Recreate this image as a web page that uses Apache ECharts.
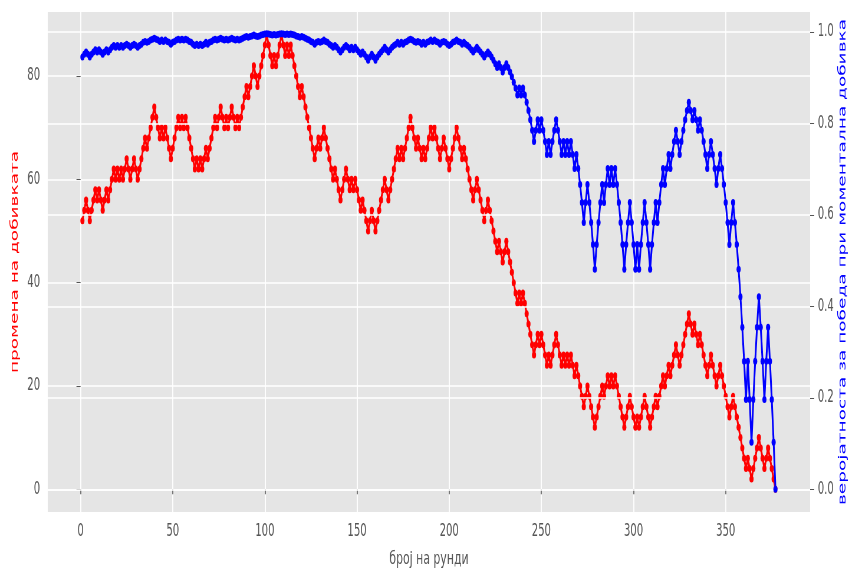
<!DOCTYPE html>
<html>
<head>
<meta charset="utf-8">
<script src="https://cdn.jsdelivr.net/npm/echarts@6.0.0/dist/echarts.min.js"></script>
<style>
html, body { margin: 0; padding: 0; background: #fff; overflow: hidden; }
#wrap { position: fixed; left: 0; top: 0; width: 849px; height: 570px; overflow: hidden; }
/* the reference is horizontally squeezed, so draw wide and squeeze */
#chart { position: absolute; left: 0; top: 0; width: 1440px; height: 570px; transform: scaleX(0.5896); transform-origin: 0 0; }
</style>
</head>
<body>
<div id="wrap"><div id="chart"></div></div>
<script>
// промена на добивката по рунда (рунда 1..377)
const gain = [
  52,54,56,54,52,54,56,58,56,58,
  56,54,56,58,56,58,60,62,60,62,
  60,62,60,62,64,62,60,62,64,62,
  60,62,64,66,68,66,68,70,72,74,
  72,70,68,70,68,70,68,66,64,66,
  68,70,72,70,72,70,72,70,68,66,
  64,62,64,62,64,62,64,66,64,66,
  68,70,72,70,72,74,72,70,72,70,
  72,74,72,70,72,70,72,74,76,78,
  76,78,80,82,80,78,80,82,84,86,
  88,86,84,82,84,82,84,86,88,86,
  84,86,84,86,84,82,80,78,76,78,
  76,74,72,70,68,66,64,66,68,66,
  68,70,68,66,64,62,60,62,60,58,
  56,58,60,62,60,58,60,58,60,58,
  56,54,56,54,52,50,52,54,52,50,
  52,54,56,58,60,58,56,58,60,62,
  64,66,64,66,64,66,68,70,72,70,
  68,66,68,66,64,66,64,66,68,70,
  68,70,68,66,64,66,68,66,64,62,
  64,66,68,70,68,66,64,66,64,62,
  60,58,56,58,60,58,56,54,52,54,
  56,54,52,50,48,46,48,46,44,46,
  48,46,44,42,40,38,36,38,36,38,
  36,34,32,30,28,26,28,30,28,30,
  28,26,24,26,24,26,28,30,28,26,
  24,26,24,26,24,26,24,22,24,22,
  20,18,16,18,20,18,16,14,12,14,
  16,18,20,18,20,22,20,22,20,22,
  20,18,16,14,12,14,16,18,16,14,
  12,14,12,14,16,18,16,14,12,14,
  16,18,16,18,20,22,20,22,24,22,
  24,26,28,26,24,26,28,30,32,34,
  32,30,32,30,28,30,28,26,24,22,
  24,26,24,22,20,22,24,22,20,18,
  16,14,16,18,16,14,12,10,8,6,
  4,6,4,2,4,6,8,10,8,6,
  4,6,8,6,4,2,0
];

// веројатност за победа при моментална добивка
const winProb = [
  .945,.951,.956,.951,.945,.951,.956,.961,.956,.961,
  .956,.951,.956,.961,.956,.961,.966,.970,.966,.970,
  .966,.970,.966,.970,.973,.970,.966,.970,.973,.970,
  .966,.970,.973,.977,.979,.977,.979,.982,.984,.986,
  .984,.982,.979,.982,.979,.982,.979,.977,.973,.977,
  .979,.982,.984,.982,.984,.982,.984,.982,.979,.977,
  .973,.970,.973,.970,.973,.970,.973,.977,.973,.977,
  .979,.982,.984,.982,.984,.986,.984,.982,.984,.982,
  .984,.986,.984,.982,.984,.982,.984,.986,.988,.990,
  .988,.990,.991,.993,.991,.990,.991,.993,.994,.995,
  .996,.995,.994,.993,.994,.993,.994,.995,.996,.995,
  .994,.995,.994,.995,.994,.993,.991,.990,.988,.990,
  .988,.986,.984,.982,.979,.977,.973,.977,.979,.977,
  .979,.982,.979,.977,.973,.970,.966,.970,.966,.961,
  .956,.961,.966,.970,.966,.961,.966,.961,.966,.961,
  .956,.951,.956,.951,.945,.938,.945,.951,.945,.938,
  .945,.951,.956,.961,.966,.961,.956,.961,.966,.970,
  .973,.977,.973,.977,.973,.977,.979,.982,.984,.982,
  .979,.977,.979,.977,.973,.977,.973,.977,.979,.982,
  .979,.982,.979,.977,.973,.977,.979,.977,.973,.970,
  .973,.977,.979,.982,.979,.977,.973,.977,.973,.970,
  .966,.961,.956,.961,.966,.961,.956,.951,.945,.951,
  .956,.951,.945,.938,.930,.922,.930,.922,.912,.922,
  .930,.922,.912,.902,.890,.877,.862,.877,.862,.877,
  .862,.846,.828,.808,.785,.760,.785,.808,.785,.808,
  .785,.760,.732,.760,.732,.760,.785,.808,.785,.760,
  .732,.760,.732,.760,.732,.760,.732,.701,.732,.701,
  .666,.627,.583,.627,.666,.627,.583,.535,.481,.535,
  .583,.627,.666,.627,.666,.701,.666,.701,.666,.701,
  .666,.627,.583,.535,.481,.535,.583,.627,.583,.535,
  .481,.535,.481,.535,.583,.627,.583,.535,.481,.535,
  .583,.627,.583,.627,.666,.701,.666,.701,.732,.701,
  .732,.760,.785,.760,.732,.760,.785,.808,.828,.846,
  .828,.808,.828,.808,.785,.808,.785,.760,.732,.701,
  .732,.760,.732,.701,.666,.701,.732,.701,.666,.627,
  .583,.535,.583,.627,.583,.535,.481,.421,.354,.280,
  .196,.280,.196,.103,.196,.280,.354,.421,.354,.280,
  .196,.280,.354,.280,.196,.103,0
];

const firstRound = 1;
const xTicks = [0, 50, 100, 150, 200, 250, 300, 350];
const leftTicks = [0, 20, 40, 60, 80];
const rightTicks = [0, 0.2, 0.4, 0.6, 0.8, 1.0];

const tickColor = '#555555';
const font = 'DejaVu Sans';

const chart = echarts.init(document.getElementById('chart'), null, { renderer: 'canvas', width: 1440, height: 570 });

chart.setOption({
  animation: false,
  backgroundColor: '#ffffff',
  grid: {
    show: true,
    backgroundColor: '#E5E5E5',
    borderWidth: 0,
    outerBoundsMode: 'none', // keep the plot box exactly where it is set
    left: 81,
    right: 66,
    top: 12,
    bottom: 58
  },
  xAxis: {
    type: 'value',
    min: -17.8,
    max: 395.8,
    name: 'број на рунди',
    nameLocation: 'middle',
    nameGap: 38,
    nameTextStyle: { color: tickColor, fontSize: 18.5, fontFamily: font },
    axisLine: { show: false },
    axisTick: { show: true, customValues: xTicks, length: 5, lineStyle: { color: tickColor, width: 1.6 } },
    axisLabel: { customValues: xTicks, color: tickColor, fontSize: 17, fontFamily: font, margin: 11 },
    splitLine: { show: true, lineStyle: { color: '#ffffff', width: 1.8 } }
  },
  yAxis: [{
    type: 'value',
    position: 'left',
    min: -4.4,
    max: 92.4,
    z: 0,
    name: 'промена на добивката',
    nameLocation: 'middle',
    nameRotate: 90,
    nameGap: 46,
    nameTextStyle: { color: '#ff0000', fontSize: 18.5, fontFamily: font },
    axisLine: { show: false },
    axisTick: { show: true, customValues: leftTicks, length: 7, lineStyle: { color: tickColor, width: 1 } },
    axisLabel: { customValues: leftTicks, color: tickColor, fontSize: 17, fontFamily: font, margin: 13 },
    splitLine: { show: true, lineStyle: { color: '#ffffff', width: 1.5 } }
  }, {
    type: 'value',
    position: 'right',
    min: -0.0497,
    max: 1.0433,
    z: 1.5,
    name: 'веројатноста за победа при моментална добивка',
    nameLocation: 'middle',
    nameRotate: 90,
    nameGap: 46,
    nameMoveOverlap: false,
    nameTextStyle: { color: '#0000ff', fontSize: 18.5, fontFamily: font },
    axisLine: { show: false },
    axisTick: { show: true, customValues: rightTicks, length: 7, lineStyle: { color: tickColor, width: 1 } },
    axisLabel: {
      customValues: rightTicks, color: tickColor, fontSize: 17, fontFamily: font, margin: 13,
      formatter: v => v.toFixed(1)
    },
    splitLine: { show: true, lineStyle: { color: '#ffffff', width: 1.5 } }
  }],
  series: [{
    name: 'gain',
    type: 'line',
    yAxisIndex: 0,
    z: 1,
    data: gain.map((v, i) => [i + firstRound, v]),
    symbol: 'circle',
    symbolSize: 7,
    lineStyle: { color: '#ff0000', width: 3 },
    itemStyle: { color: '#ff0000' }
  }, {
    name: 'prob',
    type: 'line',
    yAxisIndex: 1,
    z: 2,
    data: winProb.map((v, i) => [i + firstRound, v]),
    symbol: 'circle',
    symbolSize: 7,
    lineStyle: { color: '#0000ff', width: 3 },
    itemStyle: { color: '#0000ff' }
  }]
});
</script>
</body>
</html>
